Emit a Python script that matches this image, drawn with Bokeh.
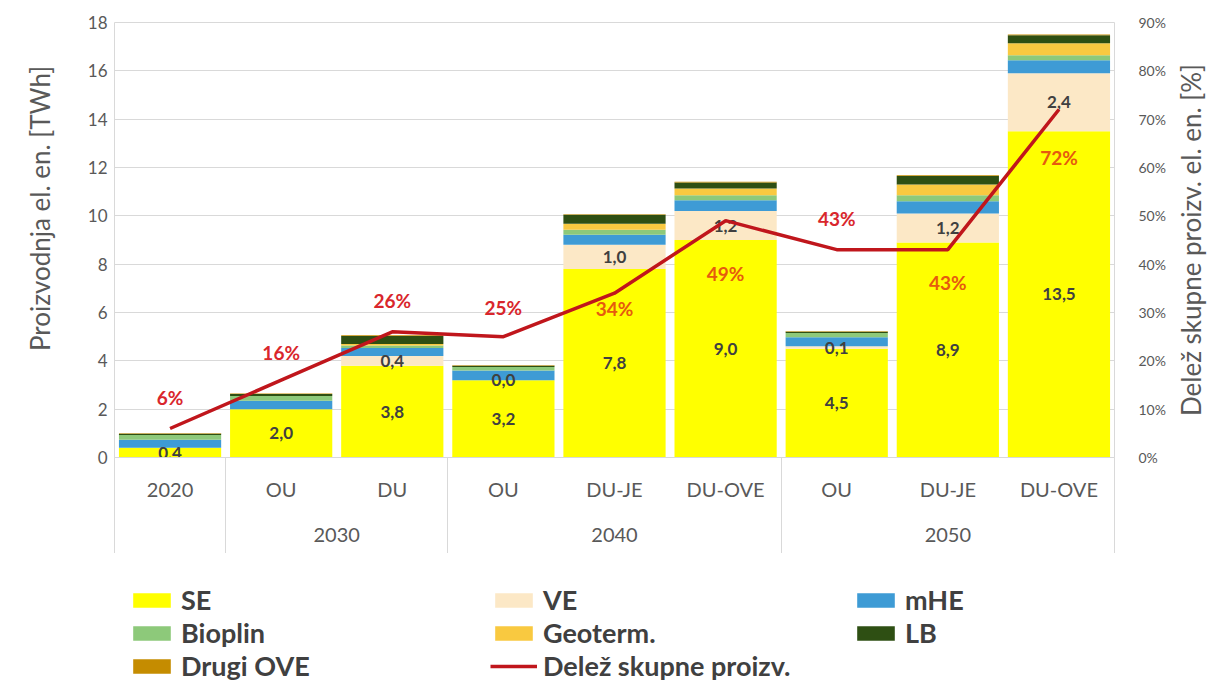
from bokeh.plotting import figure
from bokeh.layouts import row, column
from bokeh.models import (Range1d, LinearAxis, FixedTicker, NumeralTickFormatter,
                          Legend, LegendItem, ColumnDataSource)
from bokeh.core.properties import value
from bokeh.embed import file_html
from bokeh.resources import INLINE

# ---------------- data ----------------
sub_labels = ["2020", "OU", "DU", "OU", "DU-JE", "DU-OVE", "OU", "DU-JE", "DU-OVE"]
group_labels = ["", "2030", "2030", "2040", "2040", "2040", "2050", "2050", "2050"]

series_keys = ["SE", "VE", "mHE", "Bioplin", "Geoterm", "LB", "Drugi"]
series_names = ["SE", "VE", "mHE", "Bioplin", "Geoterm.", "LB", "Drugi OVE"]

se = [0.4, 2.0, 3.8, 3.2, 7.8, 9.0, 4.5, 8.9, 13.5]
ve = [0.0, 0.0, 0.4, 0.0, 1.0, 1.2, 0.1, 1.2, 2.4]
mhe = [0.33, 0.35, 0.33, 0.40, 0.42, 0.45, 0.38, 0.50, 0.54]
bioplin = [0.20, 0.20, 0.10, 0.15, 0.20, 0.20, 0.17, 0.25, 0.20]
geoterm = [0.0, 0.0, 0.07, 0.0, 0.25, 0.28, 0.0, 0.45, 0.50]
lb = [0.05, 0.08, 0.33, 0.05, 0.37, 0.25, 0.05, 0.35, 0.33]
drugi = [0.02, 0.02, 0.03, 0.02, 0.03, 0.03, 0.02, 0.03, 0.03]
ve_labelled = [False, False, True, True, True, True, True, True, True]

share = [0.06, 0.16, 0.26, 0.25, 0.34, 0.49, 0.43, 0.43, 0.72]
share_name = "Delež skupne proizv."

y_title = "Proizvodnja el. en. [TWh]"
y2_title = "Delež skupne proizv. el. en. [%]"
y_ticks = list(range(0, 19, 2))
pct_ticks = [i / 10 for i in range(10)]

# ---------------- styles ----------------
FONT = "Lato"
AX_COL = "#595959"
GRID_COL = "#D9D9D9"
colors = ["#FFFF00", "#FCE8C6", "#3E9BD5", "#8DC97A", "#F9C940", "#2E4F13", "#C58C00"]
LINE_COL = "#C0161C"
FRAME_W, FRAME_H = 1000, 435
TOP = 22
SEP_PX = 96
LEFT_STRIP = 59
LEFT_TITLE_H = 372     # height of the band the left title is centred in
# pixel offsets of the share labels (negative = above the point)
share_label_offsets = [-31, -28, -31, -29, 15, 53, -31, 33, 48]
share_label_colors = ["#D9262C", "#D9262C", "#D9262C", "#D9262C", "#E65A0E",
                      "#E65A0E", "#D9262C", "#E65A0E", "#E65A0E"]

n = len(sub_labels)
xs = [i + 0.5 for i in range(n)]

def fmt(v):
    return f"{v:.1f}".replace(".", ",")

src = ColumnDataSource(dict(x=xs, SE=se, VE=ve, mHE=mhe, Bioplin=bioplin,
                            Geoterm=geoterm, LB=lb, Drugi=drugi))

p = figure(frame_width=FRAME_W, frame_height=FRAME_H,
           x_range=Range1d(0, n), y_range=Range1d(0, 18),
           output_backend="svg", toolbar_location=None,
           min_border_left=114 - LEFT_STRIP, min_border_top=TOP, min_border_right=0,
           min_border_bottom=SEP_PX)
p.extra_y_ranges = {"pct": Range1d(0, 0.9)}
p.outline_line_color = GRID_COL
p.background_fill_color = "white"
p.border_fill_color = "white"

# grid
p.xgrid.visible = False
p.ygrid.ticker = FixedTicker(ticks=y_ticks)
p.ygrid.grid_line_color = GRID_COL
p.ygrid.grid_line_width = 1

# bars
p.vbar_stack(series_keys, x="x", width=0.92, source=src,
             fill_color=colors, line_color=None)

# value labels (SE and VE)
se_lab = ColumnDataSource(dict(x=xs, y=[s / 2 for s in se], t=[fmt(s) for s in se]))
p.text(x="x", y="y", text="t", source=se_lab, text_font=value(FONT),
       text_font_style="bold", text_font_size="17px", text_align="center",
       text_baseline="middle", text_color="#404040")
ve_x, ve_y, ve_t = [], [], []
for i in range(n):
    if ve_labelled[i]:
        ve_x.append(xs[i]); ve_y.append(se[i] + ve[i] / 2); ve_t.append(fmt(ve[i]))
ve_lab = ColumnDataSource(dict(x=ve_x, y=ve_y, t=ve_t))
p.text(x="x", y="y", text="t", source=ve_lab, text_font=value(FONT),
       text_font_style="bold", text_font_size="17px", text_align="center",
       text_baseline="middle", text_color="#404040")

# share line + labels
pct_lab = ColumnDataSource(dict(x=xs, y=share, t=[f"{round(v*100)}%" for v in share],
                                off=share_label_offsets, c=share_label_colors))
p.text(x="x", y="y", text="t", source=pct_lab, y_range_name="pct",
       y_offset="off", text_color="c", text_font=value(FONT),
       text_font_style="bold", text_font_size="19px", text_align="center",
       text_baseline="middle")
p.line(xs, share, y_range_name="pct", line_color=LINE_COL, line_width=3.5)

def style_axis(ax, size):
    ax.major_label_text_font = FONT
    ax.major_label_text_font_size = size
    ax.major_label_text_color = AX_COL
    ax.axis_label_text_font = FONT
    ax.axis_label_text_font_style = "normal"
    ax.axis_label_text_font_size = "26px"
    ax.axis_label_text_color = AX_COL
    ax.axis_line_color = None
    ax.major_tick_line_color = None
    ax.minor_tick_line_color = None
    ax.major_tick_out = 0
    ax.major_tick_in = 0
    ax.minor_tick_out = 0
    ax.minor_tick_in = 0

# left axis (ticks only; its title is carried by the left strip)
ya = p.yaxis[0]
ya.ticker = FixedTicker(ticks=y_ticks)
style_axis(ya, "17px")
ya.major_label_standoff = 7

# right axis (ticks only; its title is carried by the right strip)
ra = LinearAxis(y_range_name="pct", ticker=FixedTicker(ticks=pct_ticks),
                formatter=NumeralTickFormatter(format="0%"))
style_axis(ra, "14px")
ra.major_label_standoff = 24
p.add_layout(ra, "right")

# bottom axis: scenario labels + group separators (minor ticks hanging down)
seps = [0] + [i for i in range(1, n) if group_labels[i] != group_labels[i - 1]] + [n]
xa = p.xaxis[0]
xa.ticker = FixedTicker(ticks=xs, minor_ticks=seps)
xa.major_label_overrides = {x: lab for x, lab in zip(xs, sub_labels)}
style_axis(xa, "20px")
xa.axis_line_color = GRID_COL
xa.minor_tick_line_color = GRID_COL
xa.minor_tick_out = SEP_PX
xa.major_label_standoff = 19 - SEP_PX

# second bottom axis: year groups
groups = []
for g in group_labels:
    if g and g not in groups:
        groups.append(g)
centers = []
for g in groups:
    members = [xs[i] for i in range(n) if group_labels[i] == g]
    centers.append(sum(members) / len(members))
ga = LinearAxis(ticker=FixedTicker(ticks=centers))
ga.major_label_overrides = {c: g for c, g in zip(centers, groups)}
style_axis(ga, "20px")
ga.major_label_standoff = 24
p.add_layout(ga, "below")

def title_strip(title, frame_h, border_left, border_bottom, standoff):
    s = figure(frame_width=1, frame_height=frame_h, output_backend="svg",
               toolbar_location=None, x_axis_location=None,
               x_range=Range1d(0, 1), y_range=Range1d(0, 1),
               min_border_left=border_left, min_border_right=0, min_border_top=TOP,
               min_border_bottom=border_bottom)
    s.outline_line_color = None
    s.grid.visible = False
    s.border_fill_color = "white"
    s.background_fill_color = "white"
    ax = s.yaxis[0]
    ax.ticker = FixedTicker(ticks=[])
    style_axis(ax, "1px")
    ax.axis_label = title
    ax.axis_label_standoff = standoff
    return s

# strips carrying the axis titles (both read bottom-to-top)
p_lt = title_strip(y_title, LEFT_TITLE_H, LEFT_STRIP - 1,
                   FRAME_H + SEP_PX - LEFT_TITLE_H, 3)
p_rt = title_strip(y2_title, FRAME_H, 40, SEP_PX, 2)

# legend strip below the chart
p_leg = figure(width=1206, height=129, output_backend="svg", toolbar_location=None,
               x_axis_location=None, y_axis_location=None,
               x_range=Range1d(0, 1), y_range=Range1d(0, 1),
               min_border_left=0, min_border_right=0, min_border_top=0,
               min_border_bottom=0)
p_leg.outline_line_color = None
p_leg.grid.visible = False
# zero-size sample glyphs: they only supply the legend swatches
leg_rs = [p_leg.vbar(x=[0], top=[0], bottom=[0], width=0, fill_color=c, line_color=None)
          for c in colors]
leg_line = p_leg.line(x=[0], y=[0], line_color=LINE_COL, line_width=3.5)
items = [LegendItem(label=name, renderers=[r]) for name, r in zip(series_names, leg_rs)]
items.append(LegendItem(label=share_name, renderers=[leg_line]))
legend = Legend(items=items, orientation="horizontal", ncols=3,
                location=(128, 0), margin=0, padding=0,
                glyph_width=47, glyph_height=18, label_standoff=6,
                label_width=309, label_height=33, spacing=0,
                label_text_font=FONT, label_text_font_size="27px",
                label_text_font_style="bold", label_text_color="#404040",
                border_line_color=None, background_fill_alpha=0)
p_leg.add_layout(legend)

layout = column(row(p_lt, p, p_rt), p_leg)
open("out.html", "w").write(file_html(layout, INLINE))
